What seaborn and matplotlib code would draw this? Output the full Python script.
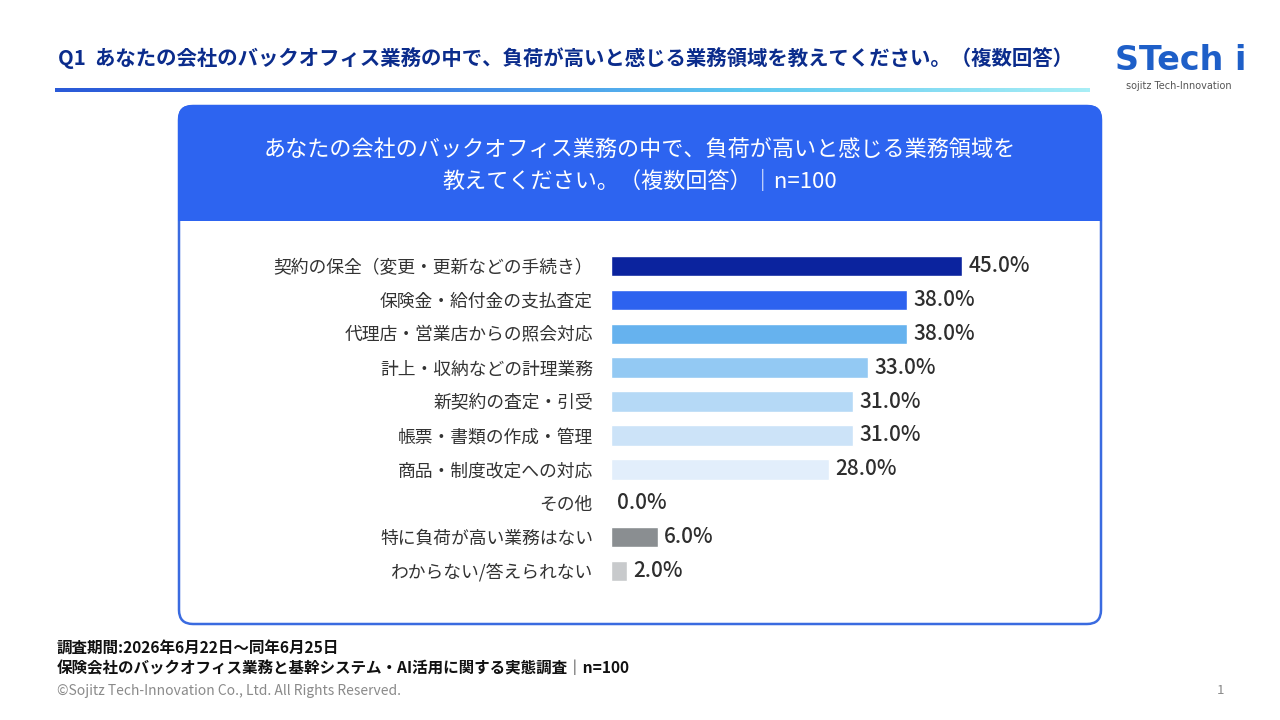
import matplotlib
matplotlib.use('Agg')
import numpy as np
import seaborn as sns
import matplotlib.pyplot as plt
from matplotlib.patches import FancyBboxPatch, Rectangle
from matplotlib.colors import LinearSegmentedColormap

# data
categories = ['契約の保全（変更・更新などの手続き）', '保険金・給付金の支払査定', '代理店・営業店からの照会対応',
              '計上・収納などの計理業務', '新契約の査定・引受', '帳票・書類の作成・管理',
              '商品・制度改定への対応', 'その他', '特に負荷が高い業務はない', 'わからない/答えられない']
values = [45.0, 38.0, 38.0, 33.0, 31.0, 31.0, 28.0, 0.0, 6.0, 2.0]
bar_colors = ['#0B239E', '#2D62EF', '#66B2EE', '#93C9F3', '#B5D9F6', '#CCE3F8', '#E2EEFB',
              '#FFFFFF', '#8A8E91', '#C8CACC']

title = 'Q1  あなたの会社のバックオフィス業務の中で、負荷が高いと感じる業務領域を教えてください。（複数回答）'
card_title = 'あなたの会社のバックオフィス業務の中で、負荷が高いと感じる業務領域を\n教えてください。（複数回答）｜n=100'
note1 = '調査期間:2026年6月22日～同年6月25日'
note2 = '保険会社のバックオフィス業務と基幹システム・AI活用に関する実態調査｜n=100'
copyright = '©Sojitz Tech-Innovation Co., Ltd. All Rights Reserved.'

sns.set_theme(style='white')
plt.rcParams['font.family'] = ['Noto Sans CJK JP', 'DejaVu Sans']

fig = plt.figure(figsize=(12.8, 7.2), dpi=100)
fig.patch.set_facecolor('white')

# background layer in pixel coords
bg = fig.add_axes([0, 0, 1, 1])
bg.axis('off')

# gradient line under the title
cmap = LinearSegmentedColormap.from_list('g', ['#2A5AD8', '#3C7BE6', '#5FC8F0', '#A8EEF6'])
bg.imshow(np.linspace(0, 1, 256)[None, :], extent=[55, 1090, 92, 88], aspect='auto', cmap=cmap)
bg.set_xlim(0, 1280)
bg.set_ylim(720, 0)

bg.text(58, 58, title, fontsize=14.7, fontweight='bold', color='#0B2C8C', va='center', ha='left')

# logo
bg.text(1181, 60, 'STech i', fontsize=24, fontweight='bold', color='#1E5FC8', va='center', ha='center',
        family=['DejaVu Sans'])
bg.text(1179, 86, 'sojitz Tech-Innovation', fontsize=7, color='#555555', va='center', ha='center',
        family=['DejaVu Sans'])

# card
bg.add_patch(FancyBboxPatch((179, 106), 922, 518, boxstyle='round,pad=0,rounding_size=14',
                            facecolor='white', edgecolor='#3A6BE0', linewidth=1.8, zorder=1))
bg.add_patch(FancyBboxPatch((178, 105), 924, 116, boxstyle='round,pad=0,rounding_size=14',
                            facecolor='#2D64F0', edgecolor='none', zorder=2))
bg.add_patch(Rectangle((178, 195), 924, 26, facecolor='#2D64F0', edgecolor='none', zorder=2))
bg.text(640, 166, card_title, fontsize=15.9, color='white', ha='center', va='center',
        linespacing=1.55, zorder=3)

# footer
bg.text(57, 648, note1, fontsize=11.2, fontweight='bold', color='#111111', va='center')
bg.text(57, 668, note2, fontsize=11.2, fontweight='bold', color='#111111', va='center')
bg.text(57, 691, copyright, fontsize=10, color='#8A8A8A', va='center')
bg.text(1217, 691, '1', fontsize=9.5, color='#8A8A8A', va='center')

# bar chart
ax = fig.add_axes([611 / 1280, 1 - 588 / 720, 468 / 1280, 339 / 720])
ax.set_zorder(5)
ax.patch.set_alpha(0)
sns.barplot(x=values, y=categories, hue=categories, palette=bar_colors, legend=False,
            width=0.6, saturation=1, ax=ax)
ax.set_xlim(0, 60)
for c in ax.containers:
    ax.bar_label(c, fmt='%.1f%%', padding=4.5, fontsize=15, fontweight='medium', color='#2E2E2E')
for s in ax.spines.values():
    s.set_visible(False)
ax.set_xticks([])
ax.set_xlabel('')
ax.set_ylabel('')
ax.tick_params(axis='y', length=0, pad=13, labelsize=12.8, labelcolor='#333333')

fig.savefig('out.png', dpi=100)
